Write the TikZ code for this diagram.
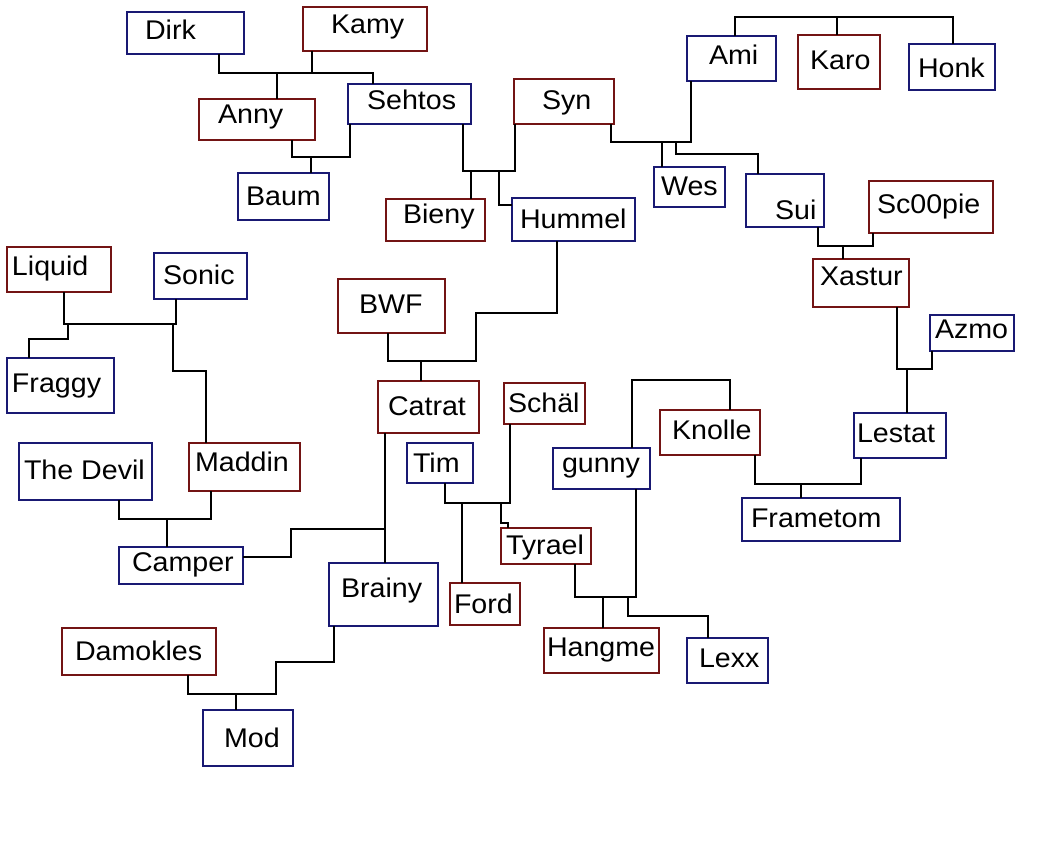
\documentclass[tikz,border=0pt]{standalone}
\usepackage{fontspec}
\setmainfont{Liberation Sans}[FakeStretch=1.06]
\definecolor{bblue}{RGB}{25,25,115}
\definecolor{bred}{RGB}{115,20,20}
\newcommand\pbox[9]{%
  \node[#2, minimum width={(#5)-(#3)}, minimum height={(#6)-(#4)}, anchor=north west] (#1) at (#3,#4) {};
  \node[lbl, anchor=base west] (#1-t) at (#7,#8) {#9};}
\begin{document}
\begin{tikzpicture}[x=1pt,y=-1pt,
  bx/.style={draw, line width=2pt, inner sep=0pt, outer sep=0pt, fill=white},
  bl/.style={bx, draw=bblue},
  rd/.style={bx, draw=bred},
  lbl/.style={inner sep=0pt, outer sep=0pt, font=\fontsize{27}{30}\selectfont},
  wire/.style={line width=2pt, black}]
\useasboundingbox[fill=white] (0,0) rectangle (1061,846);
% boxes
\pbox{Dirk}{bl}{127}{12}{244}{54}{145}{39}{Dirk}
\pbox{Kamy}{rd}{303}{7}{427}{51}{331}{33}{Kamy}
\pbox{Anny}{rd}{199}{99}{315}{140}{218}{123}{Anny}
\pbox{Sehtos}{bl}{348}{84}{471}{124}{367}{109}{Sehtos}
\pbox{Baum}{bl}{238}{173}{329}{220}{246}{205}{Baum}
\pbox{Bieny}{rd}{386}{199}{485}{241}{403}{223}{Bieny}
\pbox{Hummel}{bl}{512}{198}{635}{241}{520}{228}{Hummel}
\pbox{Syn}{rd}{514}{79}{614}{124}{542}{109}{Syn}
\pbox{Ami}{bl}{687}{36}{776}{81}{709}{64}{Ami}
\pbox{Karo}{rd}{798}{35}{880}{89}{810}{69}{Karo}
\pbox{Honk}{bl}{909}{44}{995}{90}{918}{77}{Honk}
\pbox{Wes}{bl}{654}{167}{725}{207}{661}{195}{Wes}
\pbox{Sui}{bl}{746}{174}{824}{227}{775}{219}{Sui}
\pbox{Scoopie}{rd}{869}{181}{993}{233}{877}{213}{Sc00pie}
\pbox{Xastur}{rd}{813}{259}{909}{307}{820}{285}{Xastur}
\pbox{Azmo}{bl}{930}{315}{1014}{351}{935}{338}{Azmo}
\pbox{Lestat}{bl}{854}{413}{946}{458}{857}{442}{Lestat}
\pbox{Frametom}{bl}{742}{498}{900}{541}{751}{527}{Frametom}
\pbox{Knolle}{rd}{660}{410}{760}{455}{672}{439}{Knolle}
\pbox{gunny}{bl}{553}{448}{650}{489}{562}{472}{gunny}
\pbox{Hangme}{rd}{544}{628}{659}{673}{547}{656}{Hangme}
\pbox{Lexx}{bl}{687}{638}{768}{683}{699}{667}{Lexx}
\pbox{Catrat}{rd}{378}{381}{479}{433}{388}{415}{Catrat}
\pbox{Schael}{rd}{504}{383}{585}{424}{508}{412}{Schäl}
\pbox{Tim}{bl}{407}{443}{473}{483}{413}{472}{Tim}
\pbox{Tyrael}{rd}{501}{528}{591}{564}{506}{554}{Tyrael}
\pbox{Brainy}{bl}{329}{563}{438}{626}{341}{597}{Brainy}
\pbox{Ford}{rd}{450}{583}{520}{625}{454}{613}{Ford}
\pbox{BWF}{rd}{338}{279}{445}{333}{359}{313}{BWF}
\pbox{Liquid}{rd}{7}{247}{111}{292}{12}{275}{Liquid}
\pbox{Sonic}{bl}{154}{253}{247}{299}{163}{284}{Sonic}
\pbox{Fraggy}{bl}{7}{358}{114}{413}{12}{392}{Fraggy}
\pbox{TheDevil}{bl}{19}{443}{152}{500}{24}{479}{The Devil}
\pbox{Maddin}{rd}{189}{443}{300}{491}{195}{471}{Maddin}
\pbox{Camper}{bl}{119}{547}{243}{584}{132}{571}{Camper}
\pbox{Damokles}{rd}{62}{628}{216}{675}{75}{660}{Damokles}
\pbox{Mod}{bl}{203}{710}{293}{766}{224}{747}{Mod}
% connectors
% Dirk + Kamy -> Anny, Sehtos
\coordinate (a1) at (219,73); \coordinate (a2) at (312,73);
\coordinate (a3) at (277,73); \coordinate (a4) at (373,73);
\draw[wire] (Dirk.south -| a1) -- (a1) -- (a4) -- (Sehtos.north -| a4);
\draw[wire] (Kamy.south -| a2) -- (a2);
\draw[wire] (a3) -- (Anny.north -| a3);
% Anny + Sehtos -> Baum
\coordinate (b1) at (292,157); \coordinate (b2) at (350,157); \coordinate (b3) at (311,157);
\draw[wire] (Anny.south -| b1) -- (b1) -- (b2) -- (Sehtos.south -| b2);
\draw[wire] (b3) -- (Baum.north -| b3);
% Sehtos + Syn -> Bieny, Hummel
\coordinate (c1) at (463,171); \coordinate (c2) at (515,171); \coordinate (c3) at (471,171);
\coordinate (c4) at (499,171); \coordinate (c5) at (499,205);
\draw[wire] (Sehtos.south -| c1) -- (c1) -- (c2) -- (Syn.south -| c2);
\draw[wire] (c3) -- (Bieny.north -| c3);
\draw[wire] (c4) -- (c5) -- (Hummel.west |- c5);
% Syn + Ami -> Wes, Sui
\coordinate (d1) at (611,142); \coordinate (d2) at (691,142); \coordinate (d3) at (662,142);
\coordinate (d4) at (676,142); \coordinate (d5) at (676,154); \coordinate (d6) at (758,154);
\draw[wire] (Syn.south -| d1) -- (d1) -- (d2) -- (Ami.south -| d2);
\draw[wire] (d3) -- (Wes.north -| d3);
\draw[wire] (d4) -- (d5) -- (d6) -- (Sui.north -| d6);
% Karo + Honk -> Ami
\coordinate (e1) at (735,17); \coordinate (e2) at (837,17); \coordinate (e3) at (953,17);
\draw[wire] (Ami.north -| e1) -- (e1) -- (e3) -- (Honk.north -| e3);
\draw[wire] (e2) -- (Karo.north -| e2);
% Sui + Sc00pie -> Xastur
\coordinate (f1) at (818,246); \coordinate (f2) at (873,246); \coordinate (f3) at (843,246);
\draw[wire] (Sui.south -| f1) -- (f1) -- (f2) -- (Scoopie.south -| f2);
\draw[wire] (f3) -- (Xastur.north -| f3);
% Xastur + Azmo -> Lestat
\coordinate (g1) at (897,369); \coordinate (g2) at (932,369); \coordinate (g3) at (907,369);
\draw[wire] (Xastur.south -| g1) -- (g1) -- (g2) -- (Azmo.south -| g2);
\draw[wire] (g3) -- (Lestat.north -| g3);
% Knolle + Lestat -> Frametom
\coordinate (h1) at (755,484); \coordinate (h2) at (861,484); \coordinate (h3) at (801,484);
\draw[wire] (Knolle.south -| h1) -- (h1) -- (h2) -- (Lestat.south -| h2);
\draw[wire] (h3) -- (Frametom.north -| h3);
% Knolle -> gunny
\coordinate (i1) at (632,380); \coordinate (i2) at (730,380);
\draw[wire] (gunny.north -| i1) -- (i1) -- (i2) -- (Knolle.north -| i2);
% Tyrael + gunny -> Hangme, Lexx
\coordinate (k1) at (575,597); \coordinate (k2) at (636,597); \coordinate (k3) at (603,597);
\coordinate (k4) at (628,597); \coordinate (k5) at (628,616); \coordinate (k6) at (708,616);
\draw[wire] (Tyrael.south -| k1) -- (k1) -- (k2) -- (gunny.south -| k2);
\draw[wire] (k3) -- (Hangme.north -| k3);
\draw[wire] (k4) -- (k5) -- (k6) -- (Lexx.north -| k6);
% Tim + Schael -> Ford, Tyrael
\coordinate (m1) at (445,503); \coordinate (m2) at (510,503); \coordinate (m3) at (462,503);
\coordinate (m4) at (501,503); \coordinate (m5) at (501,523); \coordinate (m6) at (508,523);
\draw[wire] (Tim.south -| m1) -- (m1) -- (m2) -- (Schael.south -| m2);
\draw[wire] (m3) -- (Ford.north -| m3);
\draw[wire] (m4) -- (m5) -- (m6) -- (Tyrael.north -| m6);
% Hummel + BWF -> Catrat
\coordinate (n1) at (557,313); \coordinate (n2) at (476,313); \coordinate (n3) at (476,361);
\coordinate (n4) at (388,361); \coordinate (n5) at (421,361);
\draw[wire] (Hummel.south -| n1) -- (n1) -- (n2) -- (n3) -- (n4) -- (BWF.south -| n4);
\draw[wire] (n5) -- (Catrat.north -| n5);
% Catrat + Camper -> Brainy
\coordinate (p1) at (385,529); \coordinate (p2) at (291,529); \coordinate (p3) at (291,557);
\draw[wire] (Catrat.south -| p1) -- (Brainy.north -| p1);
\draw[wire] (p1) -- (p2) -- (p3) -- (Camper.east |- p3);
% Brainy + Damokles -> Mod
\coordinate (q1) at (334,662); \coordinate (q2) at (276,662); \coordinate (q3) at (276,694);
\coordinate (q4) at (188,694); \coordinate (q5) at (236,694);
\draw[wire] (Brainy.south -| q1) -- (q1) -- (q2) -- (q3) -- (q4) -- (Damokles.south -| q4);
\draw[wire] (q5) -- (Mod.north -| q5);
% Liquid + Sonic -> Fraggy, Maddin
\coordinate (r1) at (64,324); \coordinate (r2) at (176,324);
\coordinate (r3) at (68,324); \coordinate (r4) at (68,339); \coordinate (r5) at (29,339);
\coordinate (r6) at (173,324); \coordinate (r7) at (173,371); \coordinate (r8) at (206,371);
\draw[wire] (Liquid.south -| r1) -- (r1) -- (r2) -- (Sonic.south -| r2);
\draw[wire] (r3) -- (r4) -- (r5) -- (Fraggy.north -| r5);
\draw[wire] (r6) -- (r7) -- (r8) -- (Maddin.north -| r8);
% The Devil + Maddin -> Camper
\coordinate (s1) at (119,519); \coordinate (s2) at (211,519); \coordinate (s3) at (167,519);
\draw[wire] (TheDevil.south -| s1) -- (s1) -- (s2) -- (Maddin.south -| s2);
\draw[wire] (s3) -- (Camper.north -| s3);
\end{tikzpicture}
\end{document}
